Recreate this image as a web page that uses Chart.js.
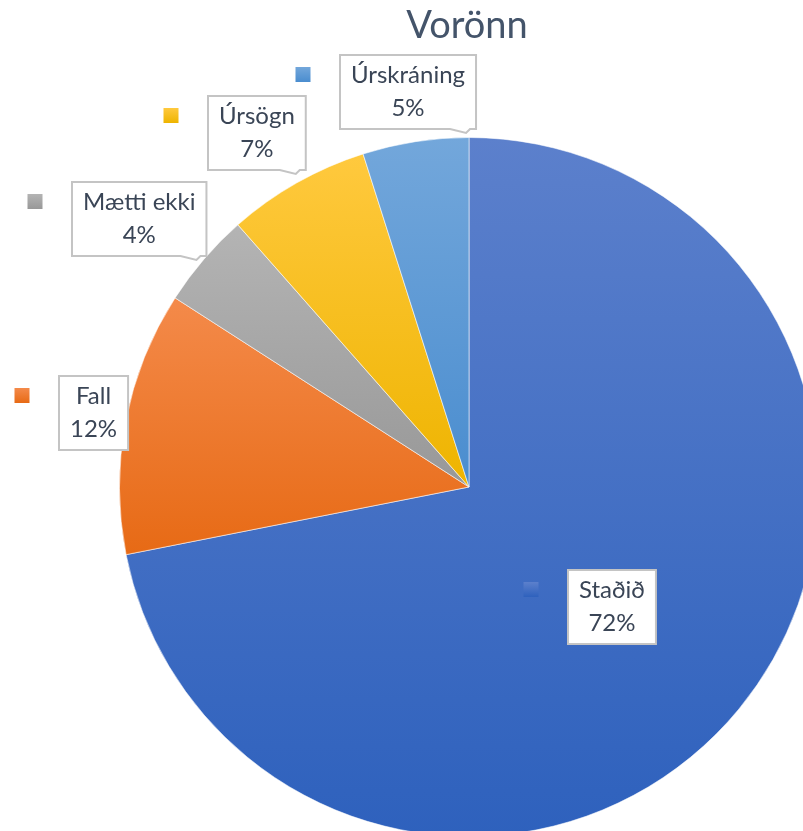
<!DOCTYPE html>
<html>
<head>
<meta charset="utf-8">
<title>Vorönn</title>
<script src="https://cdn.jsdelivr.net/npm/chart.js@4.4.1/dist/chart.umd.min.js"></script>
<style>
    html, body { margin: 0; padding: 0; overflow: hidden; background: #fff; }
    #wrap { position: absolute; left: 0; top: 0; width: 840px; height: 860px; }
</style>
</head>
<body>
<div id="wrap"><canvas id="voronnChart" width="840" height="860"></canvas></div>
<script>
    // data
    const chartTitle = 'Vorönn';
    const categories = ['Staðið', 'Fall', 'Mætti ekki', 'Úrsögn', 'Úrskráning'];
    const shares = [71.9, 12.2, 4.4, 6.6, 4.9];

    // slice colours, light at the top of each slice, dark at the bottom
    const topColors = ['#5C80CC', '#F48A4A', '#B4B4B4', '#FFC93E', '#73A7DB'];
    const bottomColors = ['#2E61BD', '#E76A15', '#989898', '#EEB400', '#4A8DCF'];

    // where each label box sits: share of the radius, and a small turn in degrees
    const labelDistance = [0.533, 1.094, 1.217, 1.179, 1.145];
    const labelTurn = [0.6, 0.3, -1.6, -1.4, 0];

    const textColor = '#3A4556';
    const labelFont = '24px Lato';
    const lineHeight = 33;

    const total = shares.reduce((a, b) => a + b, 0);

    // vertical gradient spanning the slice's own bounding box
    var sliceGradient = (ctx, i, cx, cy, r) => {
        let before = shares.slice(0, i).reduce((a, b) => a + b, 0);
        let a0 = before / total * Math.PI * 2;
        let a1 = (before + shares[i]) / total * Math.PI * 2;
        let ys = [cy, cy - r * Math.cos(a0), cy - r * Math.cos(a1)];
        if (a0 <= 0) ys.push(cy - r);
        if (a0 < Math.PI && a1 > Math.PI) ys.push(cy + r);
        let g = ctx.createLinearGradient(0, Math.min(...ys), 0, Math.max(...ys));
        g.addColorStop(0, topColors[i]);
        g.addColorStop(1, bottomColors[i]);
        return g;
    }

    const calloutPlugin = {
        id: 'callouts',
        afterDatasetsDraw(chart) {
            const ctx = chart.ctx;
            const meta = chart.getDatasetMeta(0);
            ctx.save();

            // title over the pie centre
            let c0 = meta.data[0].getProps(['x', 'y'], true);
            ctx.fillStyle = '#44546A';
            ctx.font = '38px Lato';
            ctx.textAlign = 'center';
            ctx.textBaseline = 'alphabetic';
            ctx.fillText(chartTitle, c0.x - 2, 38);

            ctx.font = labelFont;
            meta.data.forEach((arc, i) => {
                let p = arc.getProps(['x', 'y', 'startAngle', 'endAngle', 'outerRadius'], true);
                let mid = (p.startAngle + p.endAngle) / 2 + labelTurn[i] * Math.PI / 180;
                let d = labelDistance[i] * p.outerRadius;
                let px = p.x + Math.cos(mid) * d;
                let py = p.y + Math.sin(mid) * d;

                let lines = [categories[i], Math.round(shares[i] / total * 100) + '%'];
                let w = Math.max(...lines.map(t => ctx.measureText(t).width)) + 22;
                let h = lineHeight * 2 + 8;
                let left = Math.round(px - w / 2);
                let top = Math.round(py - h / 2);

                // box with a small tail for the outside labels
                ctx.fillStyle = '#ffffff';
                ctx.strokeStyle = '#C4C4C4';
                ctx.lineWidth = 2;
                ctx.beginPath();
                ctx.moveTo(left, top);
                ctx.lineTo(left + w, top);
                ctx.lineTo(left + w, top + h);
                if (labelDistance[i] > 1.1) {
                    ctx.lineTo(left + w - 6, top + h);
                    ctx.lineTo(left + w - 10, top + h + 4);
                    ctx.lineTo(left + w - 26, top + h);
                }
                ctx.lineTo(left, top + h);
                ctx.closePath();
                ctx.fill();
                ctx.stroke();

                ctx.fillStyle = textColor;
                ctx.textAlign = 'center';
                ctx.textBaseline = 'middle';
                lines.forEach((t, k) => {
                    ctx.fillText(t, left + w / 2, top + 4 + lineHeight / 2 + k * lineHeight);
                });

                // legend key left of the box
                let sy = top + 4 + lineHeight / 2 - 1;
                let sx = left - 37;
                let g = ctx.createLinearGradient(0, sy - 7.5, 0, sy + 7.5);
                g.addColorStop(0, topColors[i]);
                g.addColorStop(1, bottomColors[i]);
                ctx.fillStyle = g;
                ctx.fillRect(sx - 7.5, sy - 7.5, 15, 15);
            });
            ctx.restore();
        }
    };

    var ctx = document.getElementById('voronnChart').getContext('2d');
    var voronnChart = new Chart(ctx, {
        type: 'pie',
        data: {
            labels: categories,
            datasets: [{
                data: shares,
                backgroundColor: (c) => {
                    let area = c.chart.chartArea;
                    if (!area || c.dataIndex === undefined) return topColors[0];
                    let cx = (area.left + area.right) / 2;
                    let cy = (area.top + area.bottom) / 2;
                    let r = Math.min(area.right - area.left, area.bottom - area.top) / 2;
                    return sliceGradient(c.chart.ctx, c.dataIndex, cx, cy, r);
                },
                borderColor: 'rgba(255,255,255,0.55)',
                borderWidth: 1
            }]
        },
        options: {
            responsive: false,
            animation: false,
            events: [],
            layout: {
                padding: { left: 119, top: 137, right: 21, bottom: 23 }
            },
            plugins: {
                legend: { display: false },
                title: { display: false },
                tooltip: { enabled: false }
            }
        },
        plugins: [calloutPlugin]
    });
</script>
</body>
</html>
